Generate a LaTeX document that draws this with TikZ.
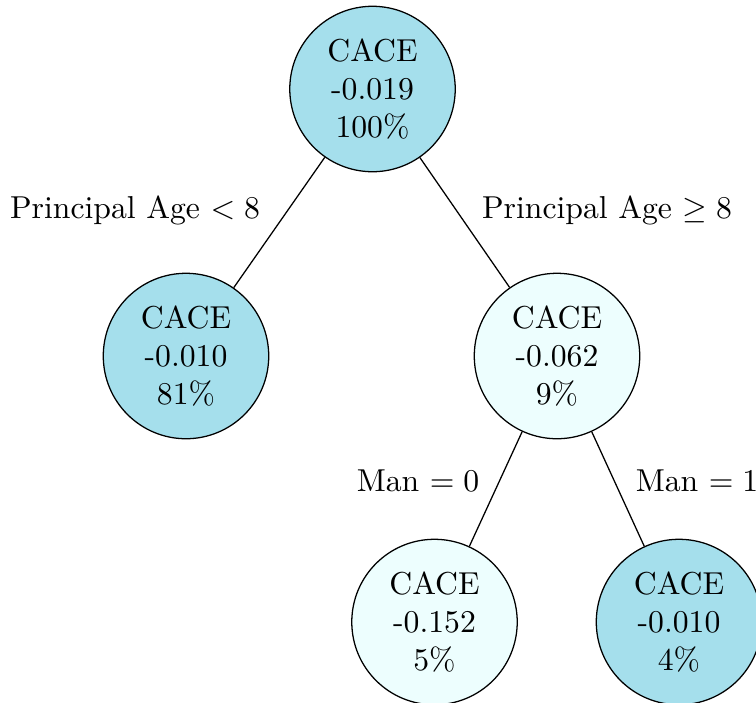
\documentclass[tikz,border=0pt]{standalone}
\usepackage{amsmath}
\definecolor{splitblue}{RGB}{165,223,236}
\definecolor{paleblue}{RGB}{237,254,254}
\begin{document}
\begin{tikzpicture}[x=0.3155pt,y=-0.3155pt,
  treenode/.style={circle,draw=black,line width=0.4pt,minimum size=52.2pt,inner sep=0pt,align=center},
  strong/.style={treenode,fill=splitblue},
  weak/.style={treenode,fill=paleblue},
  branch/.style={line width=0.4pt},
  cond/.style={inner sep=0pt}]
  \useasboundingbox (0,0) rectangle (756,702);
  \node[strong] (root) at (372.5,89) {CACE\\-0.019\\100\%};
  \node[strong] (left) at (186,356) {CACE\\-0.010\\81\%};
  \node[weak] (right) at (557,356) {CACE\\-0.062\\9\%};
  \node[weak] (rl) at (434.5,622) {CACE\\-0.152\\5\%};
  \node[strong] (rr) at (679,622) {CACE\\-0.010\\4\%};
  \draw[branch] (root) -- (left);
  \draw[branch] (root) -- (right);
  \draw[branch] (right) -- (rl);
  \draw[branch] (right) -- (rr);
  \node[cond] (lab1) at (135,210) {Principal Age $<8$};
  \node[cond] (lab2) at (607,210) {Principal Age $\geq 8$};
  \node[cond] (lab3) at (418,481) {Man $=0$};
  \node[cond] (lab4) at (697,481) {Man $=1$};
\end{tikzpicture}
\end{document}
